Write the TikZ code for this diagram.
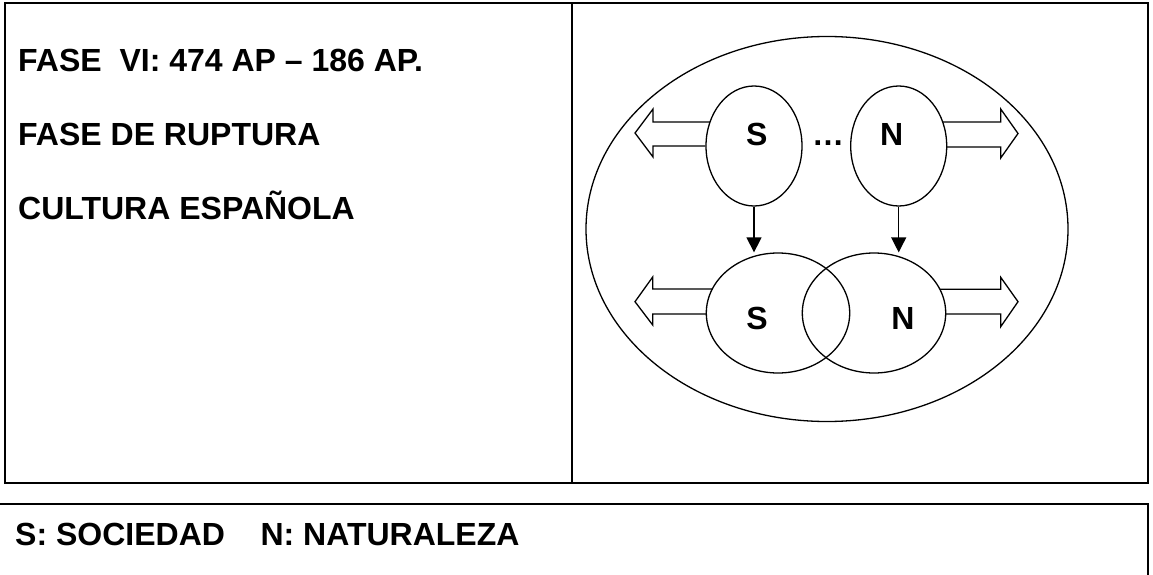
\documentclass[tikz,border=0pt]{standalone}
\usepackage{fontspec}
\setmainfont{Liberation Sans}
\usetikzlibrary{shapes.geometric,arrows.meta,calc}
\begin{document}
\begin{tikzpicture}[x=1pt,y=-1pt,
  frame/.style={line width=1.8pt},
  diag/.style={line width=1.3pt},
  ell/.style={ellipse,draw,line width=1.3pt,inner sep=0pt},
  txt/.style={inner sep=0pt,anchor=base west,font=\fontsize{32}{38}\selectfont\bfseries},
  lbl/.style={inner sep=0pt,anchor=base,font=\fontsize{32}{38}\selectfont\bfseries},
  conn/.style={line width=1.3pt,-{Triangle[length=15pt,width=15pt]}},
  blockarrow/.style={line width=1.3pt,line join=miter}]
\useasboundingbox (0,0) rectangle (1153,575);

% table frames
\coordinate (tl) at (5,3);
\coordinate (br) at (1148,483);
\coordinate (dtop) at (572,3);
\coordinate (dbot) at (572,483);
\draw[frame] (tl) rectangle (br);
\draw[frame] (dtop) -- (dbot);
\coordinate (bl) at (0,504);
\coordinate (bc) at (1148,504);
\coordinate (bd) at (1148,578);
\draw[frame] (bl) -- (bc) -- (bd);

% left texts
\node[txt] (t1) at (18,71.7) {FASE\ \ VI: 474 AP – 186 AP.};
\node[txt] (t2) at (18,146) {FASE DE RUPTURA};
\node[txt] (t3) at (18,219) {CULTURA ESPAÑOLA};
\node[txt] (t4) at (15,545) {S: SOCIEDAD\ \ \ \ N: NATURALEZA};

% diagram
\node[ell,minimum width=482pt,minimum height=385pt] (outer) at (827,229) {};
\node[ell,minimum width=96pt,minimum height=120pt] (s1) at (754,146) {};
\node[ell,minimum width=96pt,minimum height=120pt] (n1) at (898.7,146) {};
\node[ell,minimum width=143.4pt,minimum height=120pt] (s2) at (778,313) {};
\node[ell,minimum width=143.4pt,minimum height=120pt] (n2) at (874,313) {};

\node[lbl] (ls1) at (756.7,145) {S};
\node[lbl] (ln1) at (891.7,145) {N};
\node[lbl] (dots) at (828,145) {…};
\node[lbl] (ls2) at (757,329) {S};
\node[lbl] (ln2) at (903,329) {N};

\draw[conn] (s1.south) -- (s1.south |- s2.north);
\draw[conn] (n1.south) -- (n1.south |- n2.north);

% block arrows
\draw[blockarrow] ($(s1.center)+(-44,-24)$) -- ($(s1.center)+(-101,-24)$) -- ($(s1.center)+(-101,-37)$)
  -- ($(s1.center)+(-119,-13)$) -- ($(s1.center)+(-101,11)$) -- ($(s1.center)+(-101,0)$) -- (s1.west);
\draw[blockarrow] ($(n1.center)+(44,-24)$) -- ($(n1.center)+(102,-24)$) -- ($(n1.center)+(102,-37)$)
  -- ($(n1.center)+(119.3,-12.5)$) -- ($(n1.center)+(102,12)$) -- ($(n1.center)+(102,1)$) -- ($(n1.center)+(48,1)$);
\draw[blockarrow] ($(s2.center)+(-65.7,-24)$) -- ($(s2.center)+(-125.3,-24)$) -- ($(s2.center)+(-125.3,-36)$)
  -- ($(s2.center)+(-143,-11.3)$) -- ($(s2.center)+(-125.3,12)$) -- ($(s2.center)+(-125.3,1)$) -- ($(s2.center)+(-71.7,1)$);
\draw[blockarrow] ($(n2.center)+(65.9,-23.7)$) -- ($(n2.center)+(126.7,-23.7)$) -- ($(n2.center)+(126.7,-35.7)$)
  -- ($(n2.center)+(144,-11.3)$) -- ($(n2.center)+(126.7,13.7)$) -- ($(n2.center)+(126.7,1)$) -- ($(n2.center)+(71.7,1)$);
\end{tikzpicture}
\end{document}
